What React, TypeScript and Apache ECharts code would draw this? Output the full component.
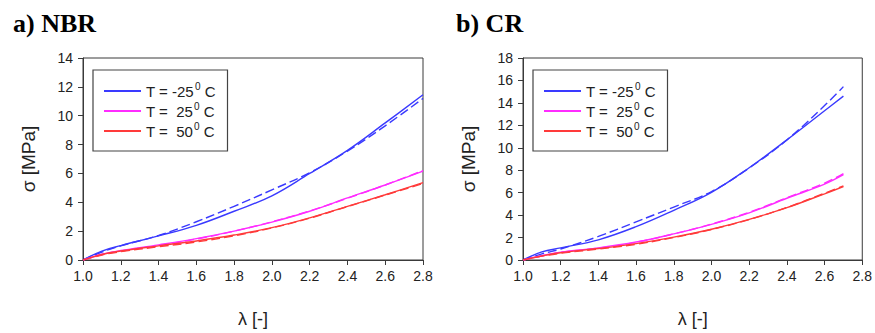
import React, { useEffect, useRef } from "react";
import * as echarts from "echarts";

const lambdaNBR = [1.0, 1.1, 1.2, 1.4, 1.6, 1.8, 2.0, 2.2, 2.4, 2.6, 2.8];
const nbrExpM25 = [0, 0.62, 1.0, 1.67, 2.4, 3.38, 4.45, 6.0, 7.6, 9.5, 11.45];
const nbrModM25 = [0, 0.55, 0.98, 1.7, 2.65, 3.72, 4.86, 6.05, 7.55, 9.3, 11.2];
const nbrExp25 = [0, 0.4, 0.66, 1.05, 1.48, 2.0, 2.63, 3.38, 4.3, 5.2, 6.16];
const nbrMod25 = [0, 0.38, 0.62, 1.0, 1.45, 2.0, 2.65, 3.4, 4.28, 5.2, 6.2];
const nbrExp50 = [0, 0.38, 0.62, 0.98, 1.32, 1.73, 2.24, 2.92, 3.72, 4.52, 5.36];
const nbrMod50 = [0, 0.35, 0.58, 0.92, 1.25, 1.68, 2.22, 2.9, 3.7, 4.5, 5.3];

const lambdaCR = [1.0, 1.1, 1.2, 1.4, 1.6, 1.8, 2.0, 2.2, 2.4, 2.6, 2.7];
const crExpM25 = [0, 0.72, 1.08, 1.8, 2.97, 4.43, 6.03, 8.22, 10.7, 13.3, 14.6];
const crModM25 = [0, 0.55, 0.98, 2.1, 3.4, 4.72, 6.1, 8.2, 10.7, 13.76, 15.45];
const crExp25 = [0, 0.38, 0.7, 1.08, 1.6, 2.33, 3.18, 4.2, 5.5, 6.76, 7.6];
const crMod25 = [0, 0.36, 0.68, 1.05, 1.58, 2.33, 3.2, 4.25, 5.55, 6.85, 7.7];
const crExp50 = [0, 0.36, 0.65, 1.02, 1.46, 2.04, 2.74, 3.62, 4.66, 5.9, 6.53];
const crMod50 = [0, 0.34, 0.6, 0.98, 1.4, 2.0, 2.72, 3.6, 4.68, 5.95, 6.6];

const temps = ["-25", "25", "50"];
const colors = ["#3a3aff", "#ff2cff", "#ff3a3a"];
const panelTitles = ["a) NBR", "b) CR"];
const xTicks = { min: 1.0, max: 2.8, interval: 0.2 };
const yMax = [14, 18];

const zip = (xs: number[], ys: number[]) => xs.map((x, i) => [x, ys[i]]);

export default function App() {
  const ref = useRef<HTMLDivElement>(null);
  useEffect(() => {
    if (!ref.current) return;
    const chart = echarts.init(ref.current, null, { renderer: "svg" });
    const font = "Liberation Sans, Arial, sans-serif";
    const axisColor = "#3a3a3a";
    const grids = [
      { left: 83, top: 58, width: 340, height: 205 },
      { left: 523, top: 58, width: 340, height: 206 },
    ];
    const panels = [
      { x: lambdaNBR, exp: [nbrExpM25, nbrExp25, nbrExp50], mod: [nbrModM25, nbrMod25, nbrMod50] },
      { x: lambdaCR, exp: [crExpM25, crExp25, crExp50], mod: [crModM25, crMod25, crMod50] },
    ];
    const series: any[] = [];
    panels.forEach((p, gi) => {
      temps.forEach((t, ti) => {
        series.push({
          type: "line",
          name: t,
          xAxisIndex: gi,
          yAxisIndex: gi,
          data: zip(p.x, p.exp[ti]),
          smooth: 0.4,
          showSymbol: false,
          symbol: "none",
          lineStyle: { color: colors[ti], width: 1.4 },
          itemStyle: { color: colors[ti] },
          z: 3,
        });
        series.push({
          type: "line",
          name: "model " + t,
          xAxisIndex: gi,
          yAxisIndex: gi,
          data: zip(p.x, p.mod[ti]),
          smooth: 0.4,
          showSymbol: false,
          symbol: "none",
          lineStyle: { color: colors[ti], width: 1.4, type: [9, 4] },
          itemStyle: { color: colors[ti] },
          z: 2,
        });
      });
    });
    const legendFmt = (name: string) =>
      (name === "-25" ? "T = -25" : "T =  " + name) + "{sup|0}{txt| C}";
    chart.setOption({
      animation: false,
      title: panelTitles.map((t, i) => ({
        text: t,
        left: i === 0 ? 8 : 451,
        top: 5,
        textStyle: { fontFamily: "Liberation Serif, Times New Roman, serif", fontWeight: "bold", fontSize: 26, color: "#000" },
      })),
      grid: grids.map((g) => ({ ...g, show: true, borderColor: axisColor, borderWidth: 1, backgroundColor: "transparent" })),
      legend: grids.map((g) => ({
        data: temps,
        orient: "vertical",
        left: g.left + 10,
        top: 70,
        width: 140,
        padding: [11, 12, 10, 11],
        itemGap: 0,
        itemWidth: 37,
        itemHeight: 2,
        icon: "rect",
        borderColor: "#444",
        borderWidth: 1.2,
        selectedMode: false,
        formatter: legendFmt,
        textStyle: {
          fontFamily: font,
          fontSize: 15,
          color: "#222",
          lineHeight: 20,
          rich: {
            sup: { fontSize: 10, verticalAlign: "top", lineHeight: 14, fontFamily: font, color: "#222", padding: [0, 0, 4, 1] },
            txt: { fontSize: 15, fontFamily: font, color: "#222", lineHeight: 20 },
          },
        },
      })),
      xAxis: grids.map((_, i) => ({
        type: "value",
        gridIndex: i,
        min: xTicks.min,
        max: xTicks.max,
        interval: xTicks.interval,
        name: "λ [-]",
        nameLocation: "middle",
        nameGap: 50,
        nameTextStyle: { fontFamily: font, fontSize: 18, color: "#222" },
        axisLine: { lineStyle: { color: axisColor, width: 1 } },
        axisTick: { show: true, inside: false, length: 5, lineStyle: { color: axisColor } },
        axisLabel: { fontFamily: font, fontSize: 14, color: "#222", margin: 9, formatter: (v: number) => v.toFixed(1) },
        splitLine: { show: false },
      })),
      yAxis: grids.map((_, i) => ({
        type: "value",
        gridIndex: i,
        min: 0,
        max: yMax[i],
        interval: 2,
        name: "σ [MPa]",
        nameLocation: "middle",
        nameGap: 45,
        nameTextStyle: { fontFamily: font, fontSize: 19, color: "#222" },
        axisLine: { show: true, lineStyle: { color: axisColor, width: 1 } },
        axisTick: { show: true, inside: false, length: 5, lineStyle: { color: axisColor } },
        axisLabel: { fontFamily: font, fontSize: 14, color: "#222", margin: 10 },
        splitLine: { show: false },
      })),
      series,
    });
    return () => chart.dispose();
  }, []);
  return <div ref={ref} style={{ position: "fixed", left: 0, top: 0, width: 875, height: 333, background: "#fff" }} />;
}
